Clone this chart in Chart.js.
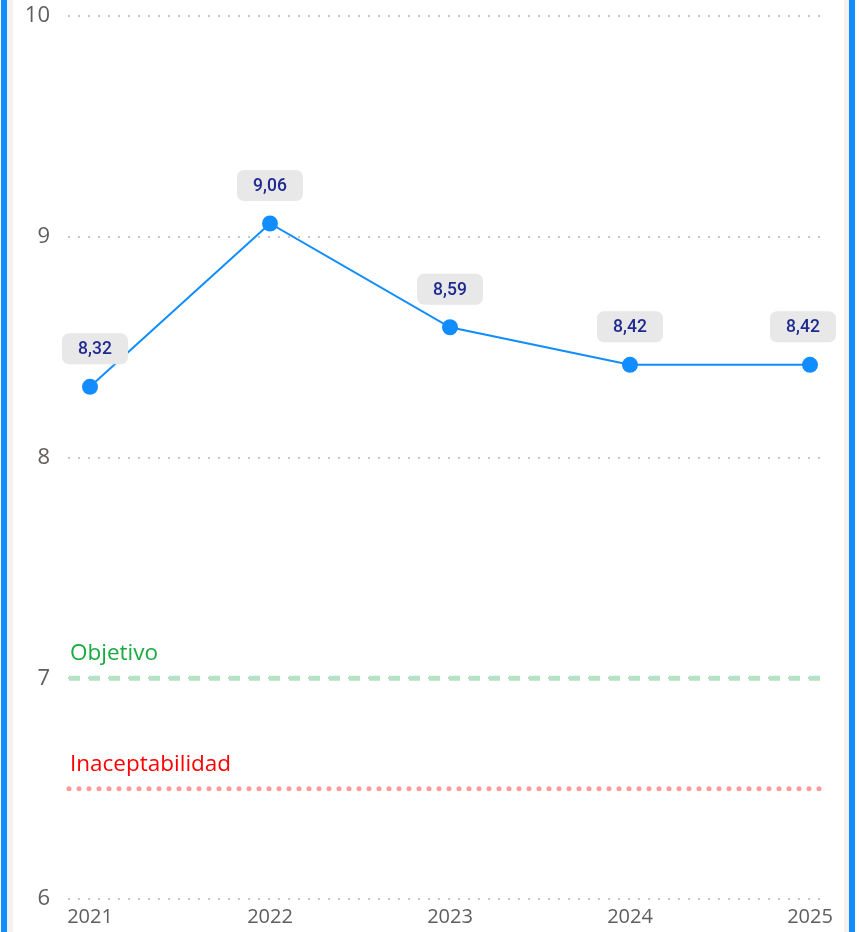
<!DOCTYPE html>
<html>
<head>
<meta charset="utf-8">
<script src="https://cdn.jsdelivr.net/npm/chart.js@4"></script>
<style>
html,body{margin:0;padding:0;background:#fff;}
#wrap{position:relative;width:859px;height:932px;overflow:hidden;}
canvas{position:absolute;left:0;top:0;}
.bar{position:absolute;top:0;height:932px;}
</style>
</head>
<body>
<div id="wrap">
<canvas id="c" width="859" height="932"></canvas>
<div class="bar" style="left:1px;width:6px;background:#118DFF"></div>
<div class="bar" style="left:7px;width:6px;background:#f3f2f1"></div>
<div class="bar" style="left:844px;width:5px;background:#f3f2f1"></div>
<div class="bar" style="left:849px;width:6px;background:#118DFF"></div>
</div>
<script>
const years = [2021, 2022, 2023, 2024, 2025];
const values = [8.32, 9.06, 8.59, 8.42, 8.42];
const valueLabels = ['8,32', '9,06', '8,59', '8,42', '8,42'];
const yTicks = [6, 7, 8, 9, 10];
const refNames = ['Objetivo', 'Inaceptabilidad'];
const refValues = [7, 6.5];
const refColors = ['#b5e2c2', '#ff9b9b'];
const refTextColors = ['#1aab40', '#ff0000'];

const refPlugin = {
  id: 'refs',
  beforeDatasetsDraw(chart) {
    const {ctx, chartArea, scales} = chart;
    ctx.save();
    refValues.forEach((v, i) => {
      const y = scales.y.getPixelForValue(v);
      ctx.beginPath();
      ctx.strokeStyle = refColors[i];
      ctx.lineWidth = 5;
      if (i === 0) {
        ctx.lineCap = 'butt';
        ctx.setLineDash([11, 9]);
        ctx.moveTo(chartArea.left + 1, y);
      } else {
        ctx.lineCap = 'round';
        ctx.setLineDash([0, 10]);
        ctx.moveTo(chartArea.left + 1, y);
      }
      ctx.lineTo(chartArea.right, y);
      ctx.stroke();
      ctx.setLineDash([]);
      ctx.fillStyle = refTextColors[i];
      ctx.font = '22.5px "Open Sans"';
      ctx.textAlign = 'left';
      ctx.textBaseline = 'alphabetic';
      ctx.fillText(refNames[i], chartArea.left + 2, y - 18);
    });
    ctx.restore();
  }
};

const labelPlugin = {
  id: 'vlabels',
  afterDatasetsDraw(chart) {
    const {ctx} = chart;
    const meta = chart.getDatasetMeta(0);
    ctx.save();
    ctx.font = '500 17.5px Roboto';
    meta.data.forEach((pt, i) => {
      const w = 66, h = 31;
      let cx = Math.min(Math.max(pt.x, 62 + w / 2), 836 - w / 2);
      const cy = pt.y - 38;
      ctx.fillStyle = '#e8e8e8';
      ctx.beginPath();
      ctx.roundRect(cx - w / 2, cy - h / 2, w, h, 7);
      ctx.fill();
      ctx.fillStyle = '#1f2a8f';
      ctx.textAlign = 'center';
      ctx.textBaseline = 'middle';
      ctx.fillText(valueLabels[i], cx, cy + 1);
    });
    ctx.restore();
  }
};

new Chart(document.getElementById('c'), {
  type: 'line',
  data: {
    datasets: [{
      data: years.map((y, i) => ({x: y, y: values[i]})),
      borderColor: '#118DFF',
      backgroundColor: '#118DFF',
      borderWidth: 2,
      pointRadius: 8,
      pointHoverRadius: 8,
      pointBorderWidth: 0,
      tension: 0
    }]
  },
  options: {
    responsive: false,
    animation: false,
    layout: {padding: {left: 0, right: 37, top: 16, bottom: 0}},
    plugins: {legend: {display: false}, tooltip: {enabled: false}},
    scales: {
      x: {
        type: 'linear',
        min: years[0] - 22 / 180,
        max: years[years.length - 1] + 12 / 180,
        afterBuildTicks(scale) { scale.ticks = years.map(v => ({value: v})); },
        afterFit(scale) { scale.height = 33; scale.paddingLeft = 0; scale.paddingRight = 0; },
        grid: {display: false, drawTicks: false},
        border: {display: false},
        ticks: {
          padding: 6,
          maxRotation: 0,
          autoSkip: false,
          color: '#605e5c',
          font: {family: '"Open Sans"', size: 20},
          callback: v => String(v)
        }
      },
      y: {
        min: yTicks[0],
        max: yTicks[yTicks.length - 1],
        afterBuildTicks(scale) { scale.ticks = yTicks.map(v => ({value: v})); },
        afterFit(scale) { scale.width = 68; scale.paddingTop = 0; scale.paddingBottom = 0; },
        grid: {color: '#c8c8c8', lineWidth: 2, drawTicks: false},
        border: {display: false, dash: [2, 8]},
        ticks: {
          padding: 18,
          color: '#605e5c',
          font: {family: '"Open Sans"', size: 22},
          callback: v => String(v)
        }
      }
    }
  },
  plugins: [refPlugin, labelPlugin]
});
</script>
</body>
</html>
